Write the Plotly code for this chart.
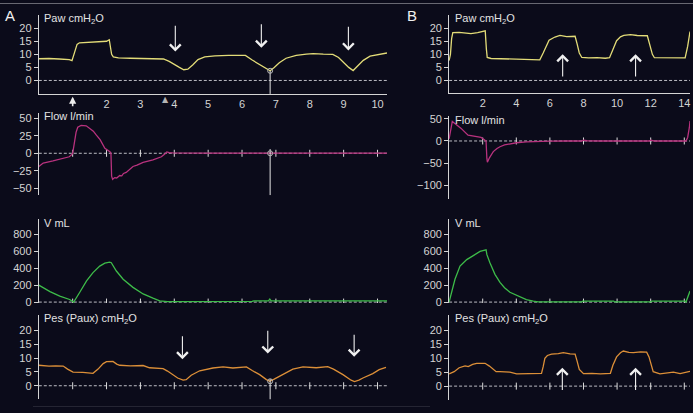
import plotly.graph_objects as go

W, H = 693, 413
BG = '#0b0b1a'
AX = '#d4d4d4'
FONT = 'Liberation Sans, Arial, sans-serif'

# ---------------- data (time in s) ----------------
PAW_A = [(0, 8.3), (0.3, 8.4), (0.6, 8.2), (0.9, 8.0), (0.98, 7.6), (1.03, 10.0), (1.08, 12.5),
         (1.13, 13.8), (1.2, 14.4), (1.5, 14.6), (1.8, 14.8), (2.0, 15.0), (2.08, 15.6), (2.12, 13.0),
         (2.15, 10.0), (2.2, 9.0), (2.35, 8.6), (2.7, 8.5), (3.1, 8.4), (3.5, 8.3), (3.68, 8.2),
         (3.85, 7.3), (4.0, 6.3), (4.15, 5.0), (4.28, 4.1), (4.4, 4.3), (4.55, 6.0), (4.7, 8.0),
         (4.9, 9.0), (5.2, 9.4), (5.6, 9.6), (6.0, 9.8), (6.1, 9.6), (6.3, 7.8), (6.5, 6.3),
         (6.7, 4.8), (6.83, 3.7), (6.95, 5.0), (7.1, 6.8), (7.3, 8.5), (7.6, 9.6), (7.9, 10.1),
         (8.1, 10.3), (8.4, 10.1), (8.68, 10.0), (8.85, 8.8), (9.0, 6.8), (9.15, 5.0), (9.28, 3.8),
         (9.42, 5.5), (9.58, 7.7), (9.78, 9.3), (10.05, 10.0), (10.28, 10.5)]
FLOW_A = [(0, -19), (0.13, -14), (0.42, -11), (0.8, -7), (0.9, -5), (0.97, -2), (1.0, 0),
          (1.05, 15), (1.1, 30), (1.15, 37.5), (1.25, 40), (1.4, 39.5), (1.5, 36), (1.61, 31.8),
          (1.7, 26), (1.81, 19.7), (1.95, 7), (2.1, 2.3), (2.13, 0), (2.15, -33), (2.18, -37.5),
          (2.24, -35), (2.3, -35.5), (2.39, -32), (2.45, -32.5), (2.5, -29), (2.58, -27.5),
          (2.65, -24), (2.78, -19), (2.9, -17), (3.08, -13), (3.37, -9.5), (3.62, -5), (3.72, -1),
          (3.78, 2), (3.85, 1), (3.95, 0.5), (5.0, 0.3), (7.0, 0.3), (10.28, 0.3)]
VOL_A = [(0, 200), (0.33, 124), (0.62, 70), (0.91, 31), (1.03, 0), (1.1, 40), (1.21, 116),
         (1.41, 251), (1.6, 348), (1.8, 425), (1.95, 460), (2.09, 472), (2.14, 465), (2.29, 367),
         (2.49, 270), (2.78, 174), (3.08, 96), (3.37, 46), (3.57, 15), (3.8, 5), (5.0, 5),
         (6.3, 8), (6.35, 15), (6.78, 15), (6.82, 35), (6.86, 15), (10.28, 15)]
PES_A = [(0, 7.4), (0.3, 7.1), (0.5, 7.2), (0.72, 7.1), (0.85, 6.0), (1.01, 4.9), (1.3, 4.8),
         (1.5, 4.7), (1.6, 4.5), (1.75, 6.0), (1.9, 8.0), (2.0, 8.7), (2.19, 8.8), (2.3, 7.8),
         (2.39, 7.4), (2.7, 7.2), (3.08, 7.3), (3.27, 6.5), (3.5, 6.3), (3.67, 6.2), (3.8, 5.3),
         (3.96, 4.0), (4.1, 2.8), (4.26, 2.0), (4.35, 2.2), (4.5, 3.8), (4.75, 5.4), (5.14, 6.4),
         (5.44, 6.8), (5.73, 6.4), (6.13, 6.8), (6.3, 5.5), (6.52, 4.0), (6.72, 2.2), (6.82, 1.6),
         (6.95, 2.4), (7.21, 4.2), (7.5, 6.0), (7.8, 6.8), (8.19, 6.5), (8.53, 6.9), (8.7, 6.0),
         (8.98, 4.0), (9.22, 2.0), (9.32, 1.5), (9.45, 2.0), (9.57, 2.8), (9.86, 4.4),
         (10.05, 5.8), (10.25, 6.6)]

PAW_B = [(0, 7.6), (0.08, 10), (0.15, 16), (0.22, 18.3), (0.6, 18.4), (1.0, 18.2), (1.3, 17.9),
         (1.7, 18.3), (2.05, 18.9), (2.15, 19.0), (2.22, 12), (2.27, 8.8), (2.5, 8.4), (3.0, 8.3),
         (3.5, 8.2), (4.0, 8.1), (4.5, 8.0), (5.0, 7.9), (5.4, 7.9), (5.6, 10.5), (5.8, 13.5),
         (5.95, 15.4), (6.3, 16.6), (6.6, 17.2), (7.0, 16.8), (7.5, 16.9), (7.62, 14), (7.75, 10.5),
         (7.9, 8.8), (8.3, 8.6), (8.8, 8.7), (9.3, 8.5), (9.55, 8.7), (9.75, 11.5), (9.97, 15.2),
         (10.2, 16.7), (10.4, 17.2), (10.8, 17.5), (11.2, 17.2), (11.8, 17.1), (11.95, 14),
         (12.1, 10), (12.22, 8.7), (12.8, 8.6), (13.3, 8.8), (13.8, 8.5), (14.05, 8.6),
         (14.2, 13), (14.34, 18.7)]
FLOW_B = [(0, 5), (0.1, 30), (0.19, 44), (0.4, 38), (0.7, 29), (1.13, 13), (1.4, 11.5), (1.7, 10.4),
          (1.9, 8), (2.1, 3), (2.2, 0), (2.25, -40), (2.28, -48), (2.4, -38), (2.63, -24),
          (2.85, -17), (3.03, -13), (3.3, -9), (3.62, -6), (4.0, -4), (4.6, -2), (5.2, -1),
          (6.0, -0.5), (7.0, 0), (7.9, 0), (8.0, 2), (8.2, 0.5), (9.0, 0), (11.9, 0), (12.0, 2),
          (12.2, 0), (14.1, 0), (14.2, 8), (14.3, 30), (14.34, 45)]
VOL_B = [(0, 0), (0.15, 120), (0.35, 270), (0.65, 425), (1.05, 502), (1.44, 549), (1.84, 599),
         (2.2, 618), (2.25, 560), (2.43, 464), (2.73, 328), (3.03, 232), (3.3, 170), (3.62, 116),
         (4.22, 58), (4.6, 30), (5.01, 12), (5.3, 2), (7.9, 2), (7.95, 12), (9.8, 12), (9.85, 2),
         (12.0, 2), (12.06, 12), (14.04, 12), (14.1, 0), (14.34, 130)]
PES_B = [(0, 4.4), (0.3, 5.2), (0.6, 6.6), (0.95, 7.3), (1.14, 7.0), (1.4, 7.8), (1.64, 8.2),
         (2.14, 8.2), (2.4, 7.2), (2.63, 6.0), (2.8, 5.2), (3.03, 5.2), (3.62, 5.0), (4.02, 4.4),
         (4.6, 4.5), (5.2, 4.4), (5.5, 4.6), (5.6, 7.0), (5.7, 10.0), (5.85, 11.0), (6.1, 11.5),
         (6.5, 11.7), (6.8, 12.0), (7.2, 11.6), (7.5, 11.5), (7.62, 9.0), (7.75, 6.0), (8.0, 4.5),
         (8.5, 4.6), (9.0, 4.4), (9.6, 4.6), (9.75, 7.5), (9.97, 10.5), (10.2, 12.0), (10.37, 12.6),
         (10.7, 12.1), (10.97, 12.0), (11.4, 12.3), (11.76, 12.2), (11.9, 10.5), (12.05, 7.0),
         (12.15, 5.2), (12.55, 4.4), (13.0, 4.8), (13.35, 5.0), (13.75, 4.5), (14.1, 4.9),
         (14.34, 5.3)]

# tick values
TICKS_X_A = [2, 3, 4, 5, 6, 7, 8, 9, 10]
TICKS_X_B = [2, 4, 6, 8, 10, 12, 14]
ZERO_TICKS_A = [1, 2, 3, 4, 5, 6, 7, 8, 9, 10]
ZERO_TICKS_B = [2, 4, 6, 8, 10, 12, 14]
TICKS_PAW = [0, 5, 10, 15, 20]
TICKS_FLOW_A = [-50, -25, 0, 25, 50]
TICKS_FLOW_B = [-100, -50, 0, 50]
TICKS_VOL = [0, 200, 400, 600, 800]
TICKS_PES = [0, 5, 10, 15, 20]

# cursor in panel A (time, value where it meets the trace)
CURSOR_X = 6.83
CURSOR_PAW = 3.7
CURSOR_FLOW = 6
CURSOR_PES = 2.4
CURSOR_PES_MARK = 1.6

# arrows: (time, tip value, tail value)
PAW_A_ARROWS = [(4.03, 11.1, 21.5), (6.57, 12.5, 22.1), (9.14, 11.5, 21.1)]
PES_A_ARROWS = [(4.24, 9.6, 18.4), (6.76, 11.6, 20.4), (9.31, 10.5, 19.0)]
PAW_B_ARROWS = [(6.76, 10.0, 0.9), (11.1, 10.0, 0.9)]
PES_B_ARROWS = [(6.74, 6.6, -1.9), (11.1, 6.6, -1.9)]

LABEL_PAW = 'Paw cmH<sub>2</sub>O'
LABEL_FLOW = 'Flow l/min'
LABEL_VOL = 'V mL'
LABEL_PES = 'Pes (Paux) cmH<sub>2</sub>O'

C_PAW = '#e3dc78'
C_FLOW = '#b8327e'
C_VOL = '#3dbb49'
C_PES = '#dc8f38'

# ---------------- layout helpers ----------------
def fx(p):
    return p / W

def fy(p):
    return 1 - p / H

XA_DOM = (38.8, 387.0)
XB_DOM = (449.1, 690.0)
XA_RANGE = [0, 10.28]
XB_RANGE = [0, 14.34]

panels = [
    (1, XA_DOM, XA_RANGE, 12.0, 92.7, [-5.14, 25.12], TICKS_PAW, PAW_A, C_PAW, LABEL_PAW, None, TICKS_X_A),
    (2, XA_DOM, XA_RANGE, 111.7, 196.0, [-60.3, 58.6], TICKS_FLOW_A, FLOW_A, C_FLOW, LABEL_FLOW, ZERO_TICKS_A, None),
    (3, XA_DOM, XA_RANGE, 220.0, 306.0, [-11.6, 985], TICKS_VOL, VOL_A, C_VOL, LABEL_VOL, ZERO_TICKS_A, None),
    (4, XA_DOM, XA_RANGE, 318.3, 404.3, [-4.96, 25.5], TICKS_PES, PES_A, C_PES, LABEL_PES, ZERO_TICKS_A, None),
    (5, XB_DOM, XB_RANGE, 12.0, 92.0, [-4.88, 25.12], TICKS_PAW, PAW_B, C_PAW, LABEL_PAW, None, TICKS_X_B),
    (6, XB_DOM, XB_RANGE, 115.0, 200.0, [-131.2, 56.9], TICKS_FLOW_B, FLOW_B, C_FLOW, LABEL_FLOW, ZERO_TICKS_B, None),
    (7, XB_DOM, XB_RANGE, 220.0, 306.0, [-11.6, 985], TICKS_VOL, VOL_B, C_VOL, LABEL_VOL, ZERO_TICKS_B, None),
    (8, XB_DOM, XB_RANGE, 318.3, 405.0, [-5.04, 25.5], TICKS_PES, PES_B, C_PES, LABEL_PES, ZERO_TICKS_B, None),
]

fig = go.Figure()
layout = {}
annotations = []
tickfont = dict(family=FONT, size=11, color=AX)

for pid, xdom, xrange, ytop, ybot, yrange, yticks, data, col, label, zticks, xticks in panels:
    sx = '' if pid == 1 else str(pid)
    xname, yname = 'x' + sx, 'y' + sx
    xa = dict(domain=[fx(xdom[0]), fx(xdom[1])], range=xrange, anchor=yname,
              showgrid=False, zeroline=False, fixedrange=True)
    if xticks is not None:
        xa.update(showline=True, linecolor=AX, linewidth=1, tickvals=xticks, ticks='',
                  showticklabels=True, tickfont=tickfont, ticklabeloverflow='allow')
    else:
        xa.update(showline=False, showticklabels=False, ticks='')
    ya = dict(domain=[fy(ybot), fy(ytop)], range=yrange, anchor=xname, showgrid=False,
              zeroline=False, showline=True, linecolor=AX, linewidth=1, ticks='outside',
              ticklen=4, tickwidth=1, tickcolor=AX, tickvals=yticks, tickfont=tickfont,
              fixedrange=True)
    layout['xaxis' + sx] = xa
    layout['yaxis' + sx] = ya

    # dashed zero line
    fig.add_trace(go.Scatter(x=xrange, y=[0, 0], mode='lines', xaxis=xname, yaxis=yname,
                             line=dict(color='#bdbdc4', width=1, dash='3px,2px'),
                             hoverinfo='skip', showlegend=False))
    if zticks is not None:
        fig.add_trace(go.Scatter(x=zticks, y=[0] * len(zticks), mode='markers', xaxis=xname,
                                 yaxis=yname, marker=dict(symbol='line-ns-open', size=5,
                                 color='#dcdcdc', line=dict(color='#dcdcdc', width=1)),
                                 hoverinfo='skip', showlegend=False))
    xs = [p[0] for p in data]
    ys = [p[1] for p in data]
    fig.add_trace(go.Scatter(x=xs, y=ys, mode='lines', xaxis=xname, yaxis=yname,
                             line=dict(color=col, width=1.3), showlegend=False))
    annotations.append(dict(text=label, xref='paper', yref='paper', x=fx(xdom[0] + 3.5),
                            y=fy(ytop + 4), xanchor='left', yanchor='middle', showarrow=False,
                            font=dict(family=FONT, size=11, color='#e2e2e2')))

# cursor lines in panel A
cursor_specs = [('x', 'y', CURSOR_PAW, -5.14, CURSOR_PAW),
                ('x2', 'y2', CURSOR_FLOW, -60.3, 0),
                ('x4', 'y4', CURSOR_PES, -4.96, CURSOR_PES_MARK)]
for xn, yn, ytopv, ybotv, ymark in cursor_specs:
    fig.add_trace(go.Scatter(x=[CURSOR_X, CURSOR_X], y=[ytopv, ybotv], mode='lines', xaxis=xn,
                             yaxis=yn, line=dict(color='#e6e6e6', width=1), hoverinfo='skip',
                             showlegend=False, cliponaxis=False))
    fig.add_trace(go.Scatter(x=[CURSOR_X], y=[ymark], mode='markers', xaxis=xn, yaxis=yn,
                             marker=dict(symbol='circle-open', size=5, color='#bbbbbb',
                                         line=dict(width=1)),
                             hoverinfo='skip', showlegend=False))

# annotation arrows
def add_arrows(arrows, xn, yn):
    for t, tip, tail in arrows:
        annotations.append(dict(x=t, y=tip, ax=t, ay=tail, xref=xn, yref=yn, axref=xn,
                                ayref=yn, text='', showarrow=True, arrowhead=4, arrowsize=1.9,
                                arrowwidth=1.1, arrowcolor='#f0f0f0', standoff=0))

add_arrows(PAW_A_ARROWS, 'x', 'y')
add_arrows(PES_A_ARROWS, 'x4', 'y4')
add_arrows(PAW_B_ARROWS, 'x5', 'y5')
add_arrows(PES_B_ARROWS, 'x8', 'y8')

# markers under the time axis of panel A
annotations.append(dict(x=1, y=fy(95.5), xref='x', yref='paper', ax=0, ay=11, text='',
                        showarrow=True, arrowhead=2, arrowsize=0.9, arrowwidth=1.6,
                        arrowcolor='#ececec', standoff=0))
annotations.append(dict(x=3.74, y=fy(98), xref='x', yref='paper', text='\u25b2', showarrow=False,
                        font=dict(family='DejaVu Sans', size=8, color='#b4b4b4'),
                        xanchor='center', yanchor='middle'))

# panel letters
annotations.append(dict(text='A', x=fx(10), y=fy(13), xref='paper', yref='paper',
                        showarrow=False, font=dict(family=FONT, size=15, color='#f0f0f0'),
                        xanchor='center', yanchor='middle'))
annotations.append(dict(text='B', x=fx(412), y=fy(12.5), xref='paper', yref='paper',
                        showarrow=False, font=dict(family=FONT, size=15, color='#f0f0f0'),
                        xanchor='center', yanchor='middle'))

# faint frame edges of the scanned figure
shapes = [dict(type='line', xref='paper', yref='paper', x0=0, x1=1, y0=fy(0.5), y1=fy(0.5),
               line=dict(color='#6a6a74', width=1)),
          dict(type='line', xref='paper', yref='paper', x0=fx(33), x1=fx(430), y0=fy(411.5),
               y1=fy(411.5), line=dict(color='#262634', width=1))]

fig.update_layout(width=W, height=H, margin=dict(l=0, r=0, t=0, b=0), autosize=False,
                  paper_bgcolor=BG, plot_bgcolor=BG, showlegend=False, shapes=shapes,
                  annotations=annotations, hovermode=False, **layout)

fig.write_html('out.html', config={'displayModeBar': False},
               post_script="document.body.style.margin='0';document.body.style.background='" + BG + "';")
